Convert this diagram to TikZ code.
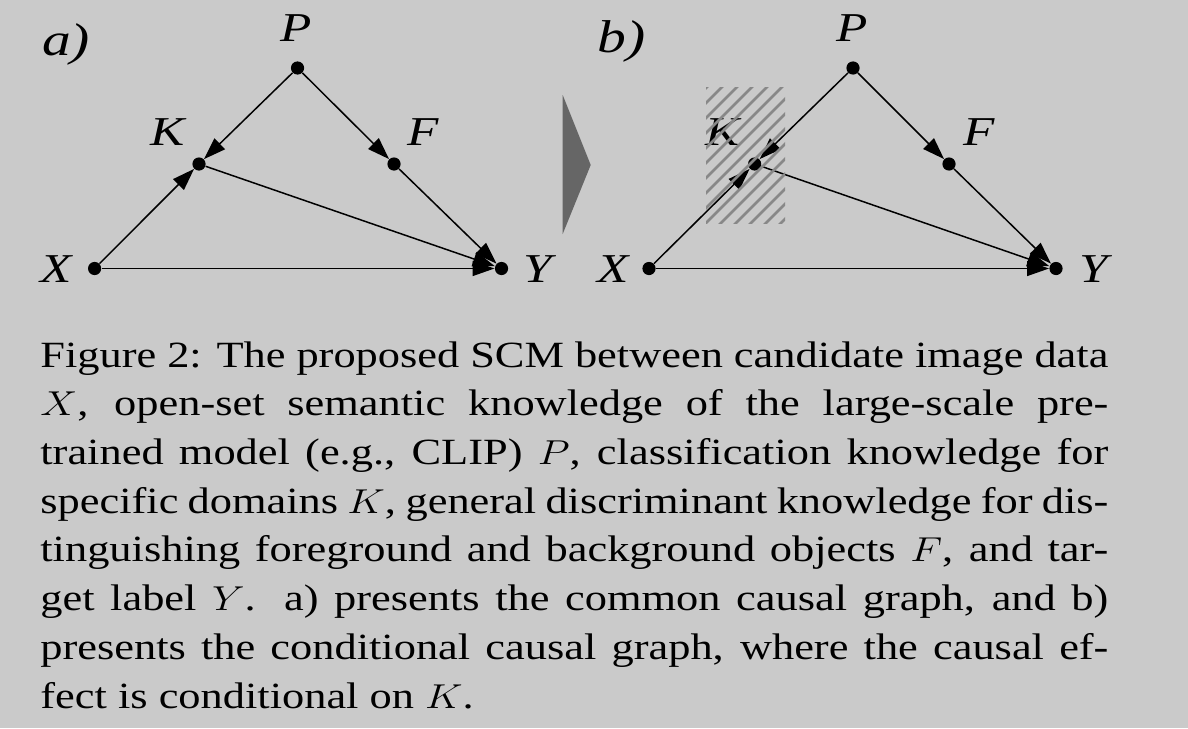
\documentclass[tikz,border=0pt]{standalone}
\usepackage{fontspec}
\setmainfont{Liberation Serif}
\usetikzlibrary{arrows.meta}
\definecolor{bgc}{RGB}{202,202,202}
\definecolor{tric}{RGB}{102,102,102}
\definecolor{hatchc}{RGB}{136,136,136}
\newcommand\capline[1]{\scalebox{1.2}[1]{\makebox[445pt][s]{#1}}}
\newcommand\capwide[1]{\scalebox{1.2}[1]{#1}}
\newcommand\wide[1]{\scalebox{1.25}[1]{#1}}
\tikzset{
  dot/.style={circle,fill=black,inner sep=0pt,minimum size=6.6pt},
  lbl/.style={inner sep=0pt,font=\fontsize{20.5}{24}\selectfont\itshape},
  panel/.style={inner sep=0pt,font=\fontsize{23}{27}\selectfont\itshape},
  edge/.style={line width=0.75pt,-{Triangle[length=11pt,width=7.5pt]}},
  hatch/.style={line width=1.4pt,hatchc},
  captext/.style={inner sep=0pt,anchor=base west,font=\fontsize{18.5}{24}\selectfont}
}
\begin{document}
\begin{tikzpicture}[x=0.5pt,y=-0.5pt]
\useasboundingbox (0,0) rectangle (1188,728);
\fill[bgc] (0,0) rectangle (1188,728);
% panel a
\node[panel] (la) at (66,44) {\wide{a)}};
\node[dot] (aP) at (297.5,68) {};
\node[dot] (aK) at (199,164) {};
\node[dot] (aF) at (394,164) {};
\node[dot] (aX) at (94.6,268.5) {};
\node[dot] (aY) at (501.5,268.5) {};
\node[lbl] (aPl) at (296.4,28) {\wide{P}};
\node[lbl] (aKl) at (167.9,132) {\wide{K}};
\node[lbl] (aFl) at (423,132) {\wide{F}};
\node[lbl] (aXl) at (56.4,269) {\wide{X}};
\node[lbl] (aYl) at (537.5,269) {\wide{Y}};
\draw[edge] (aP) -- (aK);
\draw[edge] (aP) -- (aF);
\draw[edge] (aX) -- (aK);
\draw[edge] (aK) -- (aY);
\draw[edge] (aF) -- (aY);
\draw[edge] (aX) -- (aY);
% separator triangle
\fill[tric] (562.7,95) -- (590.7,165) -- (562.7,234) -- cycle;
% panel b
\node[panel] (lb) at (621.5,41) {\wide{b)}};
\node[dot] (bP) at (853,68) {};
\node[dot] (bK) at (754.6,164) {};
\node[dot] (bF) at (949,164) {};
\node[dot] (bX) at (649,268.5) {};
\node[dot] (bY) at (1056,268.5) {};
\node[lbl] (bPl) at (852,28) {\wide{P}};
\node[lbl] (bKl) at (722.5,132) {\wide{K}};
\node[lbl] (bFl) at (979.6,132) {\wide{F}};
\node[lbl] (bXl) at (613.6,269) {\wide{X}};
\node[lbl] (bYl) at (1094,269) {\wide{Y}};
\draw[edge] (bP) -- (bK);
\draw[edge] (bP) -- (bF);
\draw[edge] (bX) -- (bK);
\draw[edge] (bK) -- (bY);
\draw[edge] (bF) -- (bY);
\draw[edge] (bX) -- (bY);
\begin{scope}
\clip (706,87) rectangle (785,223);
\foreach \c in {794,809,...,1004}
  \draw[hatch] (\c-230,230) -- (\c-80,80);
\end{scope}
% caption
\node[captext] (c1) at (40,367) {\capline{Figure 2: The proposed SCM between candidate image data}};
\node[captext] (c2) at (40,415.7) {\capline{$X$, open-set semantic knowledge of the large-scale pre-}};
\node[captext] (c3) at (40,464.4) {\capline{trained model (e.g., CLIP) $P$, classification knowledge for}};
\node[captext] (c4) at (40,513.1) {\capline{specific domains $K$, general discriminant knowledge for dis-}};
\node[captext] (c5) at (40,561.8) {\capline{tinguishing foreground and background objects $F$, and tar-}};
\node[captext] (c6) at (40,610.5) {\capline{get label $Y$. a) presents the common causal graph, and b)}};
\node[captext] (c7) at (40,659.2) {\capline{presents the conditional causal graph, where the causal ef-}};
\node[captext] (c8) at (40,708) {\capwide{fect is conditional on $K$.}};
\end{tikzpicture}
\end{document}
